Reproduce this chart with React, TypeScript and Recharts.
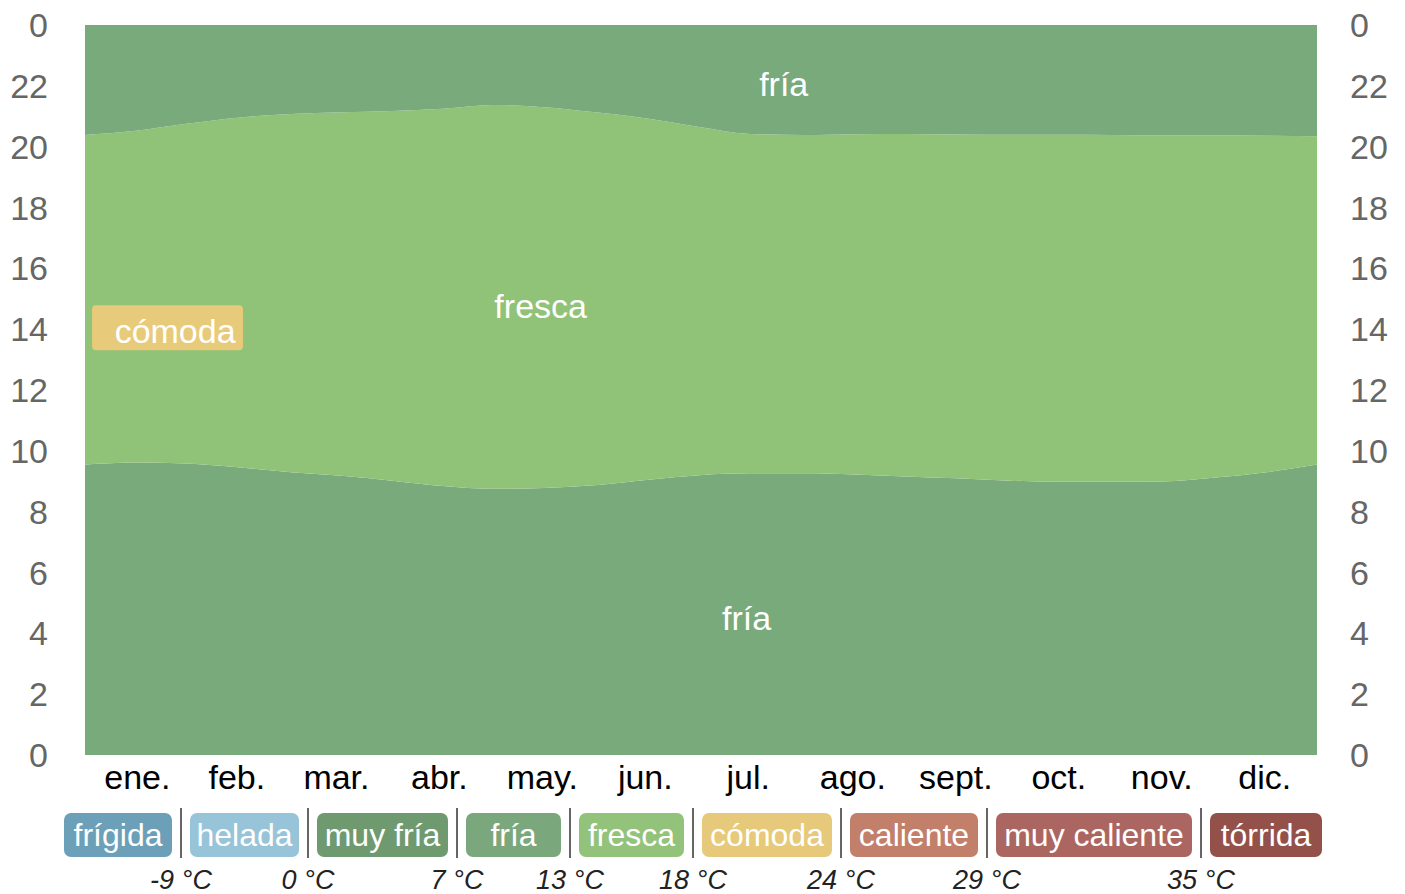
import React from "react";
import { ComposedChart, Area, Line, XAxis, YAxis, ReferenceDot, ReferenceArea } from "recharts";

// día del año (0-365) y límites entre bandas, en horas del día
const days = [0, 15, 30, 46, 61, 76, 91, 106, 121, 136, 152, 167, 182, 197, 213, 228, 243, 258, 274, 289, 304, 319, 335, 350, 365];
const friaHasta = [9.55, 9.62, 9.58, 9.45, 9.3, 9.18, 9.02, 8.84, 8.75, 8.78, 8.88, 9.05, 9.2, 9.26, 9.26, 9.22, 9.16, 9.1, 9.02, 8.98, 8.98, 8.99, 9.12, 9.3, 9.55];
const frescaHasta = [20.38, 20.52, 20.75, 20.96, 21.07, 21.13, 21.17, 21.25, 21.37, 21.3, 21.12, 20.92, 20.65, 20.42, 20.38, 20.41, 20.42, 20.4, 20.39, 20.39, 20.38, 20.37, 20.37, 20.36, 20.34];

const months = ["ene.", "feb.", "mar.", "abr.", "may.", "jun.", "jul.", "ago.", "sept.", "oct.", "nov.", "dic."];
const monthMid = [15.5, 45, 74.5, 105, 135.5, 166, 196.5, 227.5, 258, 288.5, 319, 349.5];
const hourTicks = [0, 2, 4, 6, 8, 10, 12, 14, 16, 18, 20, 22, 24];

const legendNames = ["frígida", "helada", "muy fría", "fría", "fresca", "cómoda", "caliente", "muy caliente", "tórrida"];
const legendColors = ["#6ba0b8", "#97c4d8", "#6f9a6f", "#7aa87c", "#93c37a", "#e6c97b", "#c27f6a", "#ab6662", "#93514a"];
const legendTemps = ["-9 °C", "0 °C", "7 °C", "13 °C", "18 °C", "24 °C", "29 °C", "35 °C"];
const legendWidths = [108, 109, 131, 95, 105, 130, 128, 196, 112];

const FRIA = "#79aa7c";
const FRESCA = "#90c277";
const COMODA = "#e8cb7a";

const data = days.map((d, i) => ({
  day: d,
  fria1: friaHasta[i],
  fresca: frescaHasta[i] - friaHasta[i],
  fria2: 24 - frescaHasta[i],
}));

const FONT = "'Liberation Sans', Arial, Helvetica, sans-serif";

export default function App() {
  const bandLabel = (value: string) => ({ value, position: "center" as const, fill: "#fff", fontSize: 34, fontFamily: FONT });
  const hourLabel = (v: number) => (v === 24 ? "0" : String(v));
  return (
    <div style={{ position: "absolute", left: 0, top: 0, width: 1405, height: 894, background: "#fff", fontFamily: FONT, overflow: "hidden" }}>
      <ComposedChart width={1405} height={810} data={data} margin={{ top: 25, right: 0, bottom: 0, left: 0 }}>
        <XAxis
          dataKey="day"
          type="number"
          domain={[0, 365]}
          ticks={monthMid}
          tickFormatter={(v: number) => months[monthMid.indexOf(v)]}
          axisLine={false}
          tickLine={false}
          tickSize={0}
          tickMargin={10}
          height={55}
          interval={0}
          tick={{ fill: "#000", fontSize: 34, fontFamily: FONT }}
        />
        <YAxis
          yAxisId="left"
          type="number"
          domain={[0, 24]}
          ticks={hourTicks}
          tickFormatter={hourLabel}
          axisLine={false}
          tickLine={false}
          tickSize={0}
          tickMargin={37}
          width={85}
          interval={0}
          tick={{ fill: "#666", fontSize: 34, fontFamily: FONT }}
        />
        <YAxis
          yAxisId="right"
          orientation="right"
          type="number"
          domain={[0, 24]}
          ticks={hourTicks}
          tickFormatter={hourLabel}
          axisLine={false}
          tickLine={false}
          tickSize={0}
          tickMargin={33}
          width={88}
          interval={0}
          allowDataOverflow
          tick={{ fill: "#666", fontSize: 34, fontFamily: FONT }}
        />
        <Area yAxisId="left" type="monotone" dataKey="fria1" stackId="h" stroke="none" fill={FRIA} fillOpacity={1} isAnimationActive={false} activeDot={false} />
        <Area yAxisId="left" type="monotone" dataKey="fresca" stackId="h" stroke="none" fill={FRESCA} fillOpacity={1} isAnimationActive={false} activeDot={false} />
        <Area yAxisId="left" type="monotone" dataKey="fria2" stackId="h" stroke="none" fill={FRIA} fillOpacity={1} isAnimationActive={false} activeDot={false} />
        <Line yAxisId="right" type="monotone" dataKey="fria1" stroke="none" dot={false} activeDot={false} legendType="none" isAnimationActive={false} />
        <ReferenceArea yAxisId="left" x1={2.1} x2={46.8} y1={13.31} y2={14.79} fill={COMODA} fillOpacity={1} stroke="none" radius={4} />
        <ReferenceDot yAxisId="left" x={26.7} y={13.95} r={1} fill="none" stroke="none" label={bandLabel("cómoda")} />
        <ReferenceDot yAxisId="left" x={207} y={22.05} r={1} fill="none" stroke="none" label={bandLabel("fría")} />
        <ReferenceDot yAxisId="left" x={135} y={14.75} r={1} fill="none" stroke="none" label={bandLabel("fresca")} />
        <ReferenceDot yAxisId="left" x={196} y={4.5} r={1} fill="none" stroke="none" label={bandLabel("fría")} />
      </ComposedChart>
      <div style={{ position: "absolute", left: 64, top: 813, display: "flex", alignItems: "flex-start" }}>
        {legendNames.map((name, i) => (
          <React.Fragment key={name}>
            {i > 0 && (
              <div style={{ position: "relative", width: 2, height: 50, marginTop: -5, marginLeft: 8, marginRight: 8, background: "#666" }}>
                <span style={{ position: "absolute", top: 60, left: 1, transform: "translateX(-50%)", whiteSpace: "nowrap", fontStyle: "italic", fontSize: 27, lineHeight: "24px", color: "#222" }}>
                  {legendTemps[i - 1]}
                </span>
              </div>
            )}
            <div style={{ width: legendWidths[i], height: 44, borderRadius: 7, background: legendColors[i], color: "#fff", fontSize: 32, lineHeight: "44px", textAlign: "center", whiteSpace: "nowrap" }}>
              {name}
            </div>
          </React.Fragment>
        ))}
      </div>
    </div>
  );
}
